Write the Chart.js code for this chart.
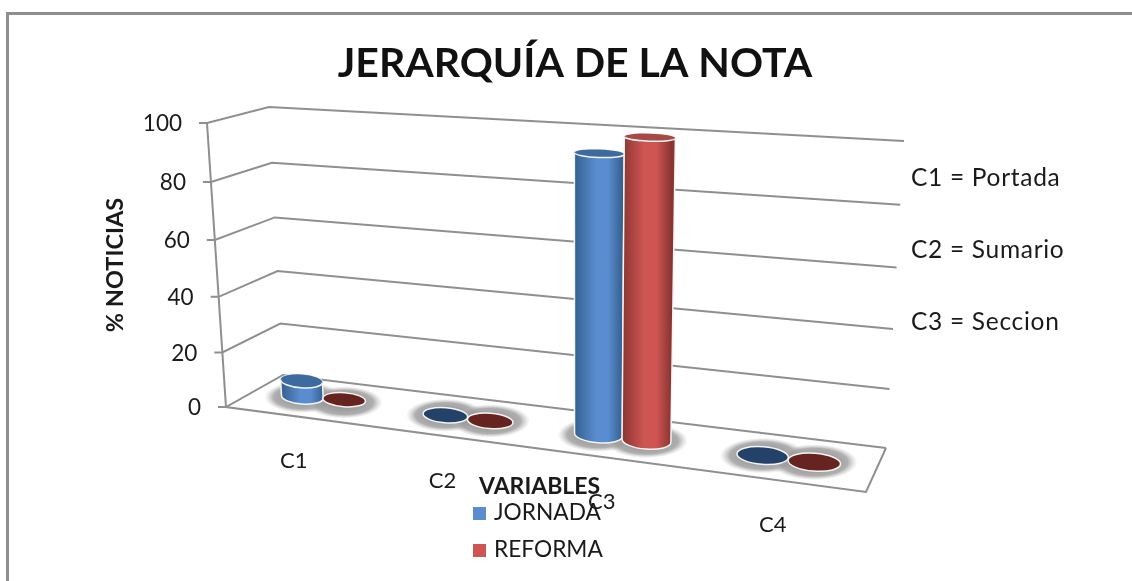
<!DOCTYPE html>
<html>
<head>
<meta charset="utf-8">
<title>Jerarquía de la nota</title>
<script src="https://cdn.jsdelivr.net/npm/chart.js@4"></script>
<style>
  html, body { margin: 0; padding: 0; background: #fff; }
  #wrap { position: relative; width: 1132px; height: 581px; overflow: hidden; }
  /* the original is a slightly soft screenshot */
  #chart { filter: blur(0.45px); }
</style>
</head>
<body>
<div id="wrap"><canvas id="chart" width="1132" height="581"></canvas></div>
<script>
// values
const categories = ['C1', 'C2', 'C3', 'C4'];
const jornada = [6, 0, 94, 0];
const reforma = [1, 0, 100, 0];
const seriesNames = ['JORNADA', 'REFORMA'];
const notes = ['C1 = Portada', 'C2 = Sumario', 'C3 = Seccion'];

const FONT = 'Lato, Carlito, sans-serif';
const GRID = '#8f8f8f';

// corners of the 3d box as seen in the picture: [floor point, top point]
const box = {
  frontLeft:  [[226, 407], [207, 123]],
  backLeft:   [[283, 375], [269, 107]],
  backRight:  [[886, 448], [904, 141]],
  frontRight: [[866, 492], [878, 160]]
};

const palette = [
  { dark: '#35608f', mid: '#5a8dcf', top: '#3e6b9f', flat: '#24416a' },
  { dark: '#8a3532', mid: '#cf5553', top: '#a54a47', flat: '#66231f' }
];

const lerp = (a, b, t) => [a[0] + (b[0] - a[0]) * t, a[1] + (b[1] - a[1]) * t];

// u along categories, v front to back, w height, all 0..1
function project(u, v, w) {
  const f = 0.87 * u / (0.87 * u + 1 - u);
  const g = w - 0.05 * w * (1 - w);
  const fl = lerp(box.frontLeft[0], box.frontLeft[1], g);
  const bl = lerp(box.backLeft[0], box.backLeft[1], g);
  const br = lerp(box.backRight[0], box.backRight[1], g);
  const fr = lerp(box.frontRight[0], box.frontRight[1], g);
  return lerp(lerp(fl, fr, f), lerp(bl, br, f), v);
}

function line(ctx, pts) {
  ctx.beginPath();
  pts.forEach((p, i) => i ? ctx.lineTo(p[0], p[1]) : ctx.moveTo(p[0], p[1]));
  ctx.stroke();
}

function text(ctx, str, x, y, font, align, color) {
  ctx.font = font;
  ctx.textAlign = align || 'left';
  ctx.textBaseline = 'middle';
  ctx.fillStyle = color || '#1a1a1a';
  ctx.fillText(str, x, y);
}

// one cylinder footprint at height w
function disc(chart, el, w) {
  const a = chart.chartArea;
  const u = (el.x - a.left) / a.width;
  const du = el.width / 2 / a.width;
  const c = project(u, 0.5, w);
  const l = project(u - du, 0.5, w);
  const r = project(u + du, 0.5, w);
  const front = project(u, 0.29, w);
  const back = project(u, 0.71, w);
  return {
    c, l, r,
    rx: Math.hypot(r[0] - l[0], r[1] - l[1]) / 2,
    ry: Math.abs(front[1] - back[1]) / 2,
    rot: Math.atan2(r[1] - l[1], r[0] - l[0]) * 0.6
  };
}

function drawShadow(ctx, d) {
  ctx.save();
  ctx.translate(d.c[0], d.c[1]);
  ctx.scale(1, (d.ry + 9) / (d.rx + 17));
  const rad = ctx.createRadialGradient(0, 0, d.rx * 0.7, 0, 0, d.rx + 17);
  rad.addColorStop(0, 'rgba(150,150,150,0.95)');
  rad.addColorStop(0.6, 'rgba(160,160,160,0.85)');
  rad.addColorStop(1, 'rgba(190,190,190,0)');
  ctx.fillStyle = rad;
  ctx.beginPath();
  ctx.arc(0, 0, d.rx + 17, 0, Math.PI * 2);
  ctx.fill();
  ctx.restore();
}

function drawCylinder(chart, el, value, colors) {
  const ctx = chart.ctx;
  const y = chart.scales.y;
  const a = chart.chartArea;
  const bottom = disc(chart, el, 0);
  const top = disc(chart, el, (a.bottom - y.getPixelForValue(value)) / a.height);
  const tall = value > 1;

  ctx.save();
  ctx.lineWidth = 1.5;
  ctx.strokeStyle = '#f4f4f4';
  if (tall) {
    const grad = ctx.createLinearGradient(bottom.c[0] - bottom.rx, 0, bottom.c[0] + bottom.rx, 0);
    grad.addColorStop(0, colors.dark);
    grad.addColorStop(0.45, colors.mid);
    grad.addColorStop(0.7, colors.mid);
    grad.addColorStop(1, colors.dark);
    ctx.fillStyle = grad;
    ctx.beginPath();
    ctx.ellipse(bottom.c[0], bottom.c[1], bottom.rx, bottom.ry, bottom.rot, 0, Math.PI);
    ctx.ellipse(top.c[0], top.c[1], top.rx, top.ry, top.rot, Math.PI, Math.PI * 2);
    ctx.closePath();
    ctx.fill();
    ctx.stroke();
  }
  ctx.fillStyle = tall ? colors.top : colors.flat;
  ctx.beginPath();
  ctx.ellipse(top.c[0], top.c[1], top.rx, top.ry, top.rot, 0, Math.PI * 2);
  ctx.fill();
  if (tall) {
    // only the near edge of the lid has the light rim
    ctx.beginPath();
    ctx.ellipse(top.c[0], top.c[1], top.rx, top.ry, top.rot, 0, Math.PI);
  }
  ctx.stroke();
  ctx.restore();
}

const box3d = {
  id: 'box3d',
  beforeDatasetsDraw(chart) {
    const ctx = chart.ctx;
    const y = chart.scales.y;
    const x = chart.scales.x;
    const a = chart.chartArea;

    // frame of the original picture
    ctx.save();
    ctx.fillStyle = '#8e8e8e';
    ctx.fillRect(6, 12, 1126, 3);
    ctx.fillRect(6, 12, 3, 569);

    // walls and value ticks
    ctx.strokeStyle = GRID;
    ctx.lineWidth = 2;
    y.ticks.forEach(t => {
      const w = (a.bottom - y.getPixelForValue(t.value)) / a.height;
      const fl = project(0, 0, w);
      line(ctx, [[fl[0] - 8, fl[1]], fl, project(0, 1, w), project(1, 1, w)]);
      text(ctx, String(t.value), fl[0] - 25, fl[1] + 1, '22.5px ' + FONT, 'right');
    });
    line(ctx, [project(0, 0, 1), project(0, 0, 0), project(1, 0, 0), project(1, 1, 0)]);

    // cylinders, back to front within each group
    const metas = [chart.getDatasetMeta(0), chart.getDatasetMeta(1)];
    const rows = [jornada, reforma];
    categories.forEach((c, i) => {
      metas.forEach(m => drawShadow(ctx, disc(chart, m.data[i], 0)));
    });
    categories.forEach((c, i) => {
      metas.forEach((m, s) => drawCylinder(chart, m.data[i], rows[s][i], palette[s]));
    });

    // category labels under the floor edge
    x.ticks.forEach((t, i) => {
      const p = project((x.getPixelForTick(i) - a.left) / a.width, 0, 0);
      text(ctx, x.getLabelForValue(t.value), p[0] - 3, p[1] + 45, '22px ' + FONT, 'center');
    });

    // axis title
    ctx.save();
    ctx.translate(115, 265);
    ctx.rotate(-Math.PI / 2);
    text(ctx, '% NOTICIAS', 0, 0, 'bold 23.5px ' + FONT, 'center');
    ctx.restore();

    // notes on the right
    ctx.letterSpacing = '0.7px';
    notes.forEach((n, i) => text(ctx, n, 911, 178 + i * 72, '24.5px ' + FONT));
    ctx.letterSpacing = '0px';

    // legend
    text(ctx, 'VARIABLES', 479, 487, 'bold 23px ' + FONT);
    seriesNames.forEach((n, i) => {
      const ly = 513 + i * 37;
      ctx.fillStyle = palette[i].mid;
      ctx.fillRect(473, ly - 6, 13, 13);
      text(ctx, n, 494, ly, '22.7px ' + FONT);
    });
    ctx.restore();
    return false;
  }
};

new Chart(document.getElementById('chart'), {
  type: 'bar',
  data: {
    labels: categories,
    datasets: [
      { label: seriesNames[0], data: jornada, backgroundColor: palette[0].mid, categoryPercentage: 0.6, barPercentage: 1 },
      { label: seriesNames[1], data: reforma, backgroundColor: palette[1].mid, categoryPercentage: 0.6, barPercentage: 1 }
    ]
  },
  options: {
    responsive: false,
    animation: false,
    layout: { padding: { left: 18, top: 39 } },
    plugins: {
      legend: { display: false },
      tooltip: { enabled: false },
      title: {
        display: true,
        text: 'JERARQUÍA DE LA NOTA',
        color: '#111',
        font: { family: FONT, size: 41, weight: 'bold' },
        padding: { top: 0, bottom: 10 }
      }
    },
    scales: {
      x: { display: false },
      y: { display: false, min: 0, max: 100, ticks: { stepSize: 20 } }
    }
  },
  plugins: [box3d]
});
</script>
</body>
</html>
